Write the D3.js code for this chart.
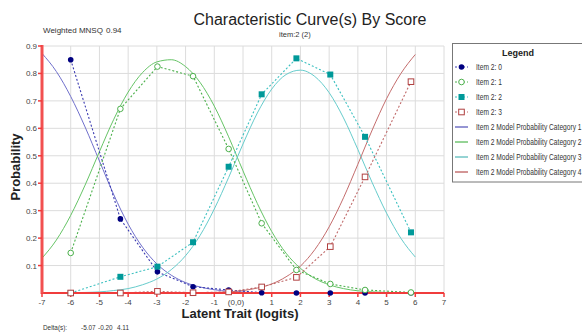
<!DOCTYPE html>
<html>
<head>
<meta charset="utf-8">
<script src="https://cdn.jsdelivr.net/npm/d3@7"></script>
<style>
  html, body { margin: 0; padding: 0; background: #fff; }
  svg { display: block; font-family: Arial, "Liberation Sans", sans-serif; }
</style>
</head>
<body>
<div id="chart"></div>
<script>
// Characteristic curve(s) by score - item 2
// observed points (dashed + markers) and model probability curves (solid)

const modelX = [-7, -6.5, -6, -5.5, -5, -4.5, -4, -3.5, -3, -2.5, -2, -1.5, -1, -0.5,
                0, 0.5, 1, 1.5, 2, 2.5, 3, 3.5, 4, 4.5, 5, 5.5, 6];
const modelCat1 = [0.873, 0.807, 0.716, 0.605, 0.481, 0.358, 0.251, 0.167, 0.106, 0.065,
                   0.038, 0.022, 0.012, 0.006, 0.003, 0.001, 0.001, 0, 0, 0, 0, 0, 0, 0, 0, 0, 0];
const modelCat2 = [0.127, 0.193, 0.283, 0.393, 0.515, 0.633, 0.732, 0.803, 0.842, 0.850,
                   0.825, 0.768, 0.681, 0.569, 0.445, 0.326, 0.224, 0.145, 0.090, 0.053,
                   0.030, 0.016, 0.008, 0.004, 0.002, 0.001, 0];
const modelCat3 = [0, 0, 0.001, 0.002, 0.004, 0.009, 0.016, 0.030, 0.051, 0.085,
                   0.136, 0.209, 0.306, 0.421, 0.543, 0.656, 0.743, 0.796, 0.812, 0.789,
                   0.730, 0.638, 0.523, 0.402, 0.291, 0.199, 0.131];
const modelCat4 = [0, 0, 0, 0, 0, 0, 0, 0, 0, 0, 0, 0.001, 0.002, 0.004, 0.009, 0.018,
                   0.033, 0.059, 0.098, 0.158, 0.241, 0.347, 0.469, 0.594, 0.708, 0.800, 0.869];

const obsX    = [-6, -4.27, -2.98, -1.74, -0.5, 0.65, 1.86, 3.04, 4.25, 5.85];
const obsCat0 = [0.850, 0.270, 0.077, 0.023, 0.011, 0.001, 0, 0, 0, 0];
const obsCat1 = [0.146, 0.671, 0.825, 0.790, 0.525, 0.254, 0.084, 0.033, 0.011, 0.002];
const obsCat2 = [0, 0.059, 0.096, 0.185, 0.460, 0.724, 0.855, 0.796, 0.569, 0.221];
const obsCat3 = [0, 0, 0.006, 0.001, 0.004, 0.022, 0.057, 0.169, 0.423, 0.770];

const xTicks = [-7, -6, -5, -4, -3, -2, -1, 0, 1, 2, 3, 4, 5, 6, 7];
const yTicks = [0.1, 0.2, 0.3, 0.4, 0.5, 0.6, 0.7, 0.8, 0.9];
const deltas = ["-5.07", "-0.20", "4.11"];

const W = 582, H = 333;
const svg = d3.select("#chart").append("svg").attr("width", W).attr("height", H);

const x = d3.scaleLinear().domain([-7, 7]).range([42, 444]);
const y = d3.scaleLinear().domain([0, 0.9]).range([293, 46]);

// grid
svg.append("g").selectAll("line").data(xTicks.slice(1)).join("line")
  .attr("x1", d => x(d)).attr("x2", d => x(d))
  .attr("y1", y(0.9)).attr("y2", y(0))
  .attr("stroke", "#dcdcdc").attr("stroke-width", 1);
svg.append("g").selectAll("line").data(yTicks).join("line")
  .attr("x1", x(-7)).attr("x2", x(7))
  .attr("y1", d => y(d)).attr("y2", d => y(d))
  .attr("stroke", "#dcdcdc").attr("stroke-width", 1);

// tick labels
svg.append("g").selectAll("text").data(yTicks).join("text")
  .attr("x", 37).attr("y", d => y(d) + 3)
  .attr("text-anchor", "end").attr("font-size", "8px").attr("fill", "#444")
  .text(d => d3.format(".1f")(d));
svg.append("g").selectAll("text").data(xTicks).join("text")
  .attr("x", d => d === 0 ? x(d) - 7 : x(d)).attr("y", 305)
  .attr("text-anchor", "middle").attr("font-size", "8px").attr("fill", "#444")
  .text(d => d === 0 ? "(0,0)" : d);

// model curves
const line = d3.line().curve(d3.curveMonotoneX);
const models = [
  { vals: modelCat1, color: "#7070cc" },
  { vals: modelCat2, color: "#66c466" },
  { vals: modelCat3, color: "#66cccc" },
  { vals: modelCat4, color: "#c46c6c" },
];
models.forEach(m => {
  svg.append("path")
    .attr("d", line(modelX.map((v, i) => [x(v), y(m.vals[i])])))
    .attr("fill", "none").attr("stroke", m.color).attr("stroke-width", 1);
});

// observed
const obs = [
  { vals: obsCat0, color: "#3a3ab0", mark: "dot",    fill: "#000080" },
  { vals: obsCat1, color: "#4cb04c", mark: "circle", fill: "#4cb04c" },
  { vals: obsCat2, color: "#3cc0c0", mark: "square", fill: "#009999" },
  { vals: obsCat3, color: "#c06a6a", mark: "osq",    fill: "#b04040" },
];
const lin = d3.line();
obs.forEach(o => {
  svg.append("path")
    .attr("d", lin(obsX.map((v, i) => [x(v), y(o.vals[i])])))
    .attr("fill", "none").attr("stroke", o.color).attr("stroke-width", 1.1)
    .attr("stroke-dasharray", "2,2");
});

// axes (red)
svg.append("line").attr("x1", x(-7)).attr("x2", x(7)).attr("y1", y(0)).attr("y2", y(0))
  .attr("stroke", "#f03c3c").attr("stroke-width", 2);
svg.append("line").attr("x1", x(-7)).attr("x2", x(-7)).attr("y1", y(0.9) - 1).attr("y2", y(0) + 1)
  .attr("stroke", "#f25050").attr("stroke-width", 3);
svg.append("g").selectAll("line").data(yTicks).join("line")
  .attr("x1", x(-7) - 4).attr("x2", x(-7)).attr("y1", d => y(d)).attr("y2", d => y(d))
  .attr("stroke", "#f03c3c").attr("stroke-width", 1.5);
svg.append("g").selectAll("line").data(xTicks).join("line")
  .attr("x1", d => x(d)).attr("x2", d => x(d)).attr("y1", y(0)).attr("y2", y(0) + 4)
  .attr("stroke", "#f03c3c").attr("stroke-width", 1.5);

function drawMarker(g, kind, cx, cy, fill) {
  if (kind === "dot") {
    g.append("circle").attr("cx", cx).attr("cy", cy).attr("r", 2.8).attr("fill", fill);
  } else if (kind === "circle") {
    g.append("circle").attr("cx", cx).attr("cy", cy).attr("r", 2.8)
      .attr("fill", "#fff").attr("stroke", fill).attr("stroke-width", 1);
  } else if (kind === "square") {
    g.append("rect").attr("x", cx - 3).attr("y", cy - 3).attr("width", 6).attr("height", 6)
      .attr("fill", fill);
  } else {
    g.append("rect").attr("x", cx - 2.8).attr("y", cy - 2.8).attr("width", 5.6).attr("height", 5.6)
      .attr("fill", "#fff").attr("stroke", fill).attr("stroke-width", 1);
  }
}
const mg = svg.append("g");
obs.forEach(o => {
  obsX.forEach((v, i) => drawMarker(mg, o.mark, x(v), y(o.vals[i]), o.fill));
});

// texts
svg.append("text").attr("x", 310).attr("y", 25).attr("text-anchor", "middle")
  .attr("font-size", "16px").attr("fill", "#222").text("Characteristic Curve(s) By Score");
svg.append("text").attr("x", 279).attr("y", 37).attr("font-size", "7.5px").attr("fill", "#333")
  .text("item:2 (2)");
svg.append("text").attr("x", 43).attr("y", 33).attr("font-size", "8px").attr("fill", "#333")
  .text("Weighted MNSQ");
svg.append("text").attr("x", 106).attr("y", 33).attr("font-size", "8px").attr("fill", "#333")
  .text("0.94");
svg.append("text").attr("transform", "translate(20,167) rotate(-90)").attr("text-anchor", "middle")
  .attr("font-size", "13px").attr("font-weight", "bold").attr("fill", "#222").text("Probability");
svg.append("text").attr("x", 240).attr("y", 318).attr("text-anchor", "middle")
  .attr("font-size", "13px").attr("font-weight", "bold").attr("fill", "#222").text("Latent Trait (logits)");
svg.append("text").attr("transform", "translate(43,330) scale(0.8,1)")
  .attr("font-size", "8px").attr("fill", "#333").text("Delta(s):");
svg.append("g").selectAll("text").data(deltas).join("text")
  .attr("transform", (d, i) => `translate(${[81, 98, 117][i]},330) scale(0.8,1)`)
  .attr("font-size", "8px").attr("fill", "#333").text(d => d);

// legend
const leg = svg.append("g");
leg.append("rect").attr("x", 452.5).attr("y", 43.5).attr("width", 140).attr("height", 138.5)
  .attr("fill", "#fff").attr("stroke", "#777").attr("stroke-width", 1);
leg.append("text").attr("x", 518).attr("y", 56).attr("text-anchor", "middle")
  .attr("font-size", "9px").attr("font-weight", "bold").attr("fill", "#222").text("Legend");
const legItems = [
  { label: "Item 2: 0", color: "#3a3ab0", mark: "dot", fill: "#000080", dash: true },
  { label: "Item 2: 1", color: "#4cb04c", mark: "circle", fill: "#4cb04c", dash: true },
  { label: "Item 2: 2", color: "#3cc0c0", mark: "square", fill: "#009999", dash: true },
  { label: "Item 2: 3", color: "#c06a6a", mark: "osq", fill: "#b04040", dash: true },
  { label: "Item 2 Model Probability Category 1", color: "#2c2ca8" },
  { label: "Item 2 Model Probability Category 2", color: "#2ca82c" },
  { label: "Item 2 Model Probability Category 3", color: "#2ca8a8" },
  { label: "Item 2 Model Probability Category 4", color: "#a82c2c" },
];
legItems.forEach((d, i) => {
  const cy = 67 + i * 15;
  leg.append("line").attr("x1", 455).attr("x2", 468).attr("y1", cy).attr("y2", cy)
    .attr("stroke", d.color).attr("stroke-width", 1)
    .attr("stroke-dasharray", d.dash ? "2,2" : null);
  if (d.mark) drawMarker(leg, d.mark, 461.5, cy, d.fill);
  // narrow face: squeeze horizontally
  leg.append("text").attr("transform", `translate(476,${cy + 3}) scale(0.7,1)`)
    .attr("font-size", "9.5px").attr("fill", "#333")
    .text(d.label);
});
</script>
</body>
</html>
